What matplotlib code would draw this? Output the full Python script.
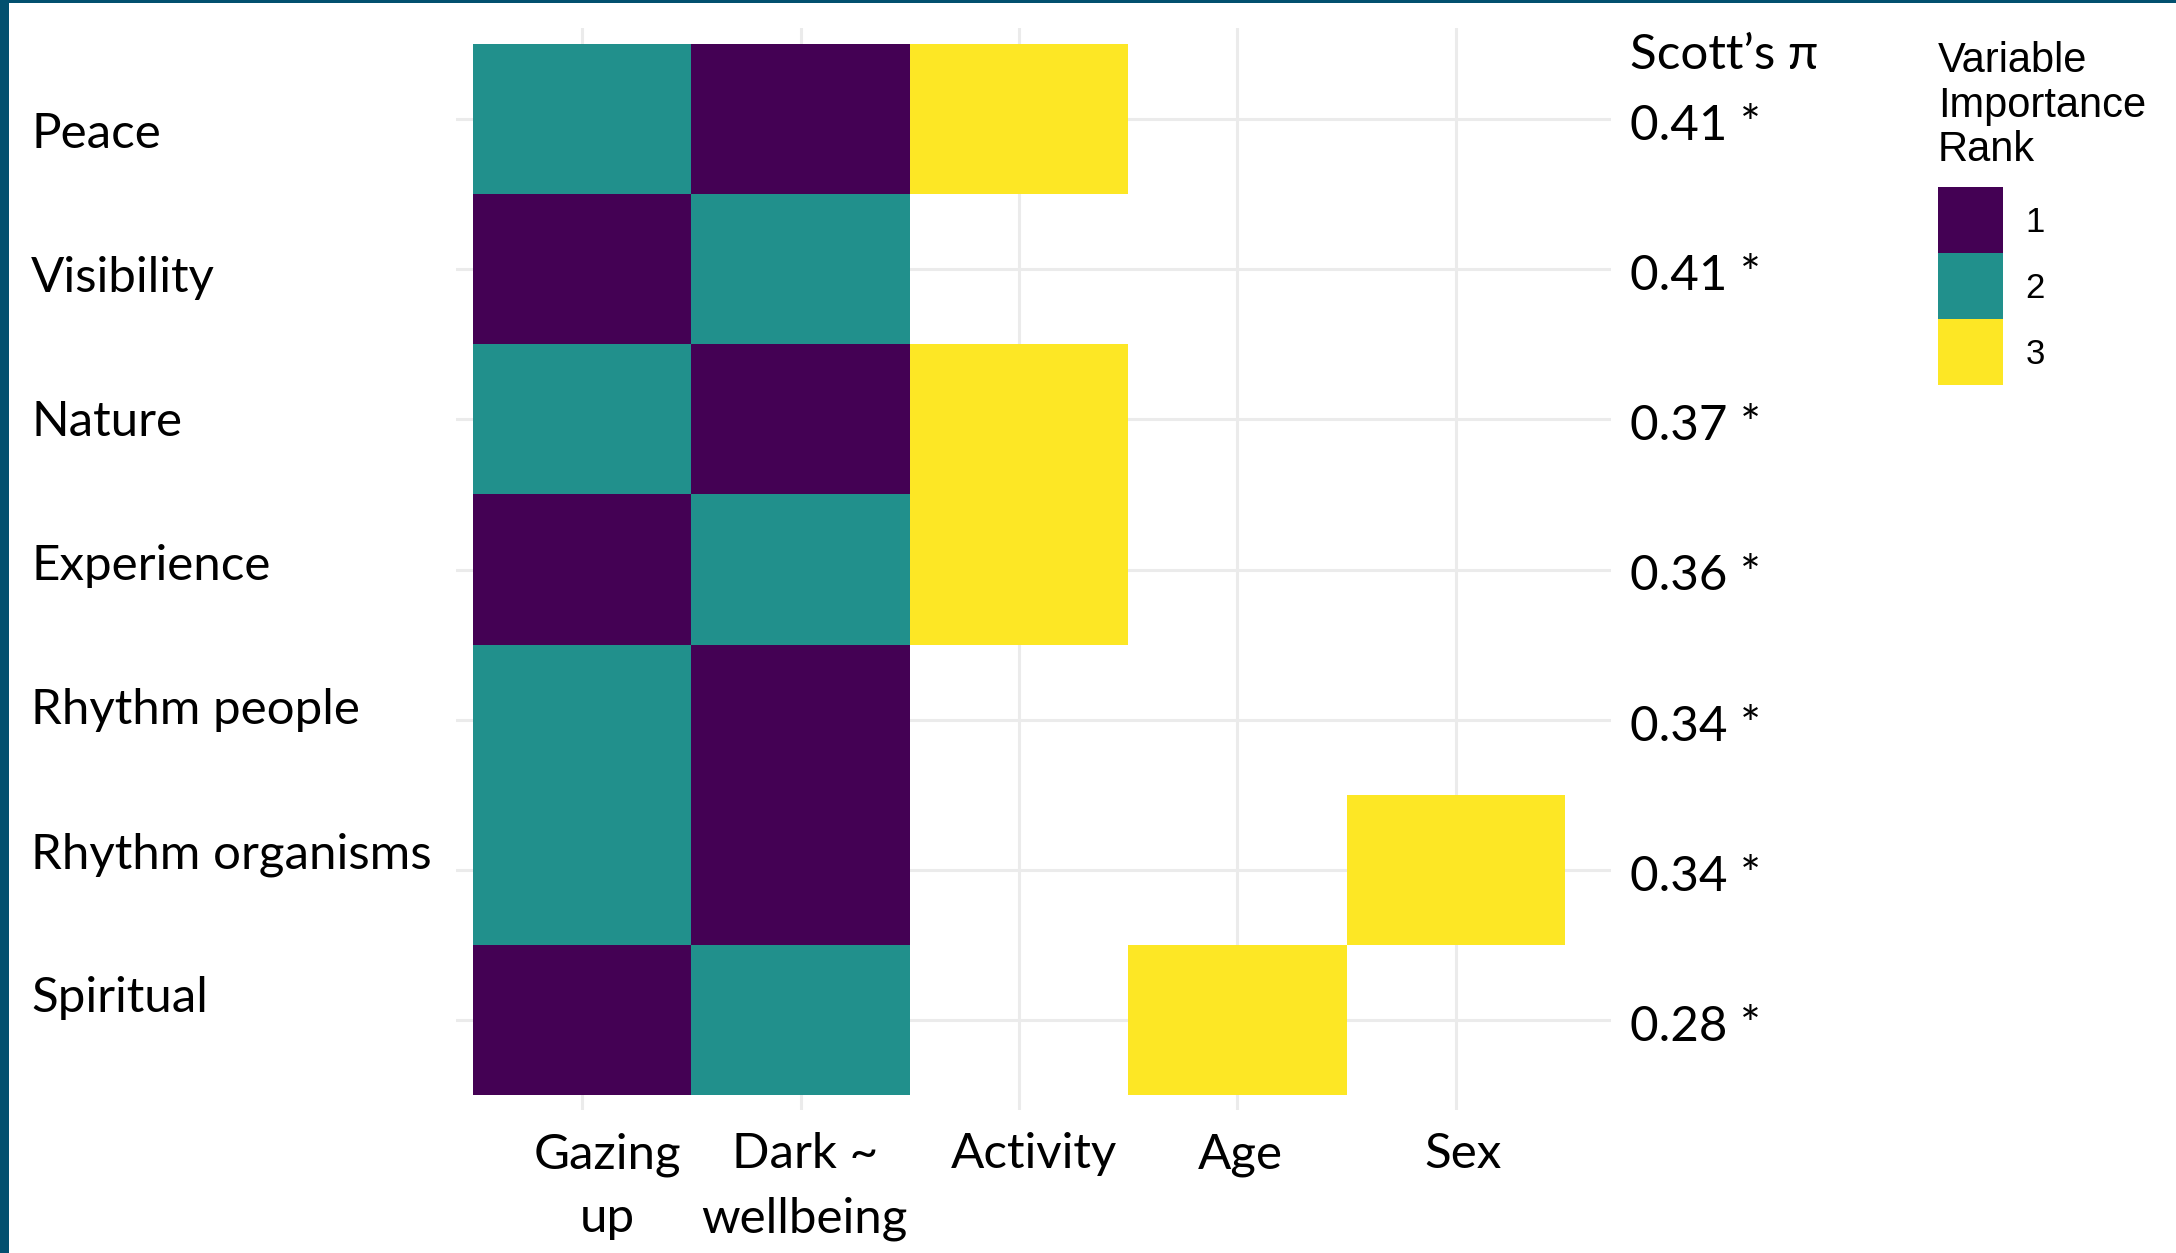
import matplotlib
matplotlib.use('Agg')
import matplotlib.pyplot as plt
from matplotlib.colors import ListedColormap, BoundaryNorm
from matplotlib.patches import Rectangle
import numpy as np

W, H = 2176, 1253
DPI = 100

MAIN_FONT = ['Lato', 'DejaVu Sans']
LEG_FONT = ['Liberation Sans', 'DejaVu Sans']
BORDER = '#02506F'
GRID = '#EBEBEB'

# ── data ────────────────────────────────────────────────────────────────
outcomes = ['Peace', 'Visibility', 'Nature', 'Experience',
            'Rhythm people', 'Rhythm organisms', 'Spiritual']
predictors = ['Gazing\nup', 'Dark ~\nwellbeing', 'Activity', 'Age', 'Sex']
scotts_pi = [0.41, 0.41, 0.37, 0.36, 0.34, 0.34, 0.28]
pi_signif = [True, True, True, True, True, True, True]

# importance rank of each predictor per outcome (0 = not among top three)
rank_gazing = [2, 1, 2, 1, 2, 2, 1]
rank_dark = [1, 2, 1, 2, 1, 1, 2]
rank_activity = [3, 0, 3, 3, 0, 0, 0]
rank_age = [0, 0, 0, 0, 0, 0, 3]
rank_sex = [0, 0, 0, 0, 0, 3, 0]

rank_levels = [1, 2, 3]
rank_colors = ['#440154', '#21908C', '#FDE725']
legend_title = ['Variable', 'Importance', 'Rank']

ranks = np.array([rank_gazing, rank_dark, rank_activity, rank_age, rank_sex]).T
ranks = np.ma.masked_equal(ranks, 0)


def fx(px):
    return px / W


def fy(py):
    return 1 - py / H


fig = plt.figure(figsize=(W / DPI, H / DPI), dpi=DPI)
fig.patch.set_facecolor('white')

# panel: tiles span 473-1565 px horizontally, 44-1095 px vertically
unit_x = (1565 - 473) / len(predictors)
unit_y = (1095 - 44) / len(outcomes)
x0, x1 = 0.5 - (473 - 456) / unit_x, 5.5 + (1611 - 1565) / unit_x
y0, y1 = 0.5 - (44 - 28) / unit_y, 7.5 + (1110 - 1095) / unit_y
ax_left = 473 - (0.5 - x0) * unit_x
ax_top = 44 - (0.5 - y0) * unit_y
ax_w = (x1 - x0) * unit_x
ax_h = (y1 - y0) * unit_y
ax = fig.add_axes([fx(ax_left), fy(ax_top + ax_h), fx(ax_w), ax_h / H])

cmap = ListedColormap(rank_colors)
norm = BoundaryNorm([0.5, 1.5, 2.5, 3.5], cmap.N)
xe = np.arange(len(predictors) + 1) + 0.5
ye = np.arange(len(outcomes) + 1) + 0.5
ax.pcolormesh(xe, ye, ranks, cmap=cmap, norm=norm, zorder=2)

ax.set_xlim(x0, x1)
ax.set_ylim(y1, y0)
ax.set_xticks(np.arange(1, len(predictors) + 1))
ax.set_yticks(np.arange(1, len(outcomes) + 1))
ax.tick_params(length=0, labelbottom=False, labelleft=False)
ax.grid(True, color=GRID, lw=2.2, zorder=0)
ax.set_axisbelow(True)
for s in ax.spines.values():
    s.set_visible(False)

FS = 35.5

# outcome labels (left)
for i, lab in enumerate(outcomes):
    fig.text(fx(31), fy(148.5 + 144 * i), lab, ha='left', va='baseline',
             fontsize=FS, family=MAIN_FONT, color='black')

# predictor labels (bottom), one text per line
shift_px = [25, 4, 15, 3, 7]
for j, lab in enumerate(predictors):
    xc = ax_left + (j + 1 - x0) * unit_x + shift_px[j]
    for k, line in enumerate(lab.split('\n')):
        fig.text(fx(xc), fy(1168.5 + 64 * k), line, ha='center',
                 va='baseline', fontsize=FS, family=MAIN_FONT, color='black')

# agreement column
fig.text(fx(1630), fy(69), 'Scott\u2019s \u03c0', ha='left', va='baseline',
         fontsize=FS, family=MAIN_FONT, color='black')
for i, (v, sig) in enumerate(zip(scotts_pi, pi_signif)):
    yc = 44 + unit_y * (i + 0.5) + 21
    fig.text(fx(1630), fy(yc), f'{v:.2f}' + (' *' if sig else ''),
             ha='left', va='baseline', fontsize=FS, family=MAIN_FONT,
             color='black')

# legend
for k, line in enumerate(legend_title):
    fig.text(fx(1938), fy(72 + 44.5 * k), line, ha='left', va='baseline',
             fontsize=30, family=LEG_FONT, color='black')
key_w, key_h = 65, 66
for k, (lvl, c) in enumerate(zip(rank_levels, rank_colors)):
    ky = 187 + key_h * k
    fig.patches.append(Rectangle((fx(1938), fy(ky + key_h)), fx(key_w),
                                 key_h / H, transform=fig.transFigure,
                                 fc=c, ec='none'))
    fig.text(fx(2035), fy(ky + key_h / 2 + 12), str(lvl), ha='center',
             va='baseline', fontsize=25, family=LEG_FONT, color='black')

# slide frame: left and top bands
fig.patches.append(Rectangle((0, 0), fx(9), 1, transform=fig.transFigure,
                             fc=BORDER, ec='none'))
fig.patches.append(Rectangle((0, fy(3)), 1, 3 / H, transform=fig.transFigure,
                             fc=BORDER, ec='none'))

fig.savefig('out.png', dpi=DPI)
